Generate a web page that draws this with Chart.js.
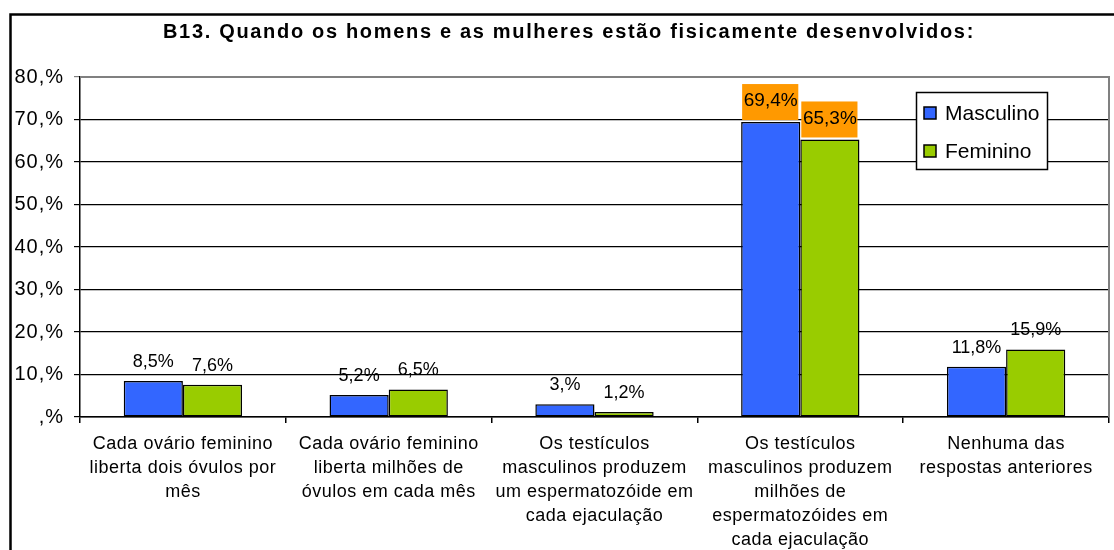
<!DOCTYPE html>
<html><head><meta charset="utf-8">
<script src="https://cdn.jsdelivr.net/npm/chart.js@4/dist/chart.umd.min.js"></script>
<style>html,body{margin:0;padding:0;background:#fff}#wrap{width:1114px;height:550px;position:relative}canvas{display:block}</style>
</head><body><div id="wrap"><canvas id="c" width="1114" height="550"></canvas></div>
<script>
const chartTitle = 'B13. Quando os homens e as mulheres estão fisicamente desenvolvidos:';
const categories = [
  ['Cada ovário feminino', 'liberta dois óvulos por', 'mês'],
  ['Cada ovário feminino', 'liberta milhões de', 'óvulos em cada mês'],
  ['Os testículos', 'masculinos produzem', 'um espermatozóide em', 'cada ejaculação'],
  ['Os testículos', 'masculinos produzem', 'milhões de', 'espermatozóides em', 'cada ejaculação'],
  ['Nenhuma das', 'respostas anteriores']
];
const seriesNames = ['Masculino', 'Feminino'];
const masculino = [8.5, 5.2, 3.0, 69.4, 11.8];
const feminino = [7.6, 6.5, 1.2, 65.3, 15.9];
const highlightedCategory = 3;
const yMin = 0, yMax = 80, yStep = 10;

const FONT = '"Liberation Sans", Arial, sans-serif';
const BLUE = '#3366FF', GREEN = '#99CC00', ORANGE = '#FF9900';

function pct(v) {
  if (Number.isInteger(v)) return (v === 0 ? '' : String(v)) + ',%';
  return v.toFixed(1).replace('.', ',') + '%';
}

const decor = {
  id: 'decor',
  afterLayout(chart) {
    const y = chart.scales.y;
    if (!y._wrapped) {
      const orig = y.drawLabels.bind(y);
      y.drawLabels = function (area) {
        const ctx = chart.ctx; ctx.save(); ctx.letterSpacing = '1px'; orig(area); ctx.restore();
      };
      y._wrapped = true;
    }
    const x = chart.scales.x;
    if (!x._wrapped) {
      const origx = x.drawLabels.bind(x);
      x.drawLabels = function (area) {
        const ctx = chart.ctx; ctx.save(); ctx.letterSpacing = '0.5px'; origx(area); ctx.restore();
      };
      x._wrapped = true;
    }
  },
  beforeDraw(chart) {
    const ctx = chart.ctx;
    ctx.save();
    ctx.fillStyle = '#fff';
    ctx.fillRect(0, 0, chart.width, chart.height);
    ctx.restore();
  },
  afterDraw(chart) {
    const ctx = chart.ctx;
    const a = chart.chartArea;
    ctx.save();
    // outer frame
    ctx.strokeStyle = '#000';
    ctx.lineWidth = 2.5;
    ctx.beginPath();
    ctx.moveTo(10.5, 600); ctx.lineTo(10.5, 14.5); ctx.lineTo(1200, 14.5);
    ctx.stroke();
    // plot area gray top/right
    ctx.strokeStyle = '#808080';
    ctx.lineWidth = 2;
    ctx.beginPath();
    ctx.moveTo(a.left, a.top); ctx.lineTo(a.right, a.top); ctx.lineTo(a.right, a.bottom);
    ctx.stroke();
    // title
    ctx.fillStyle = '#000';
    ctx.font = 'bold 20px ' + FONT;
    ctx.textAlign = 'left';
    ctx.textBaseline = 'middle';
    const w0 = ctx.measureText(chartTitle).width;
    const target = 812;
    const ls = Math.max(0, (target - w0) / chartTitle.length);
    ctx.letterSpacing = ls + 'px';
    ctx.fillText(chartTitle, 569 - target / 2, 32);
    ctx.letterSpacing = '0px';

    // data labels
    chart.data.datasets.forEach((ds, di) => {
      const meta = chart.getDatasetMeta(di);
      meta.data.forEach((bar, i) => {
        const v = ds.data[i];
        const txt = pct(v);
        if (i === highlightedCategory) {
          const bw = bar.width;
          ctx.fillStyle = ORANGE;
          ctx.fillRect(bar.x - bw / 2 + 1, bar.y - 38, bw - 3, 36);
          ctx.fillStyle = '#000';
          ctx.font = '19px ' + FONT;
          ctx.textAlign = 'center';
          ctx.textBaseline = 'middle';
          ctx.fillText(txt, bar.x, bar.y - 21);
        } else {
          ctx.fillStyle = '#000';
          ctx.font = '18px ' + FONT;
          ctx.textAlign = 'center';
          ctx.textBaseline = 'alphabetic';
          ctx.fillText(txt, bar.x, bar.y - 14);
        }
      });
    });

    // legend
    const lx = 916, ly = 92, lw = 131, lh = 77;
    ctx.fillStyle = '#fff';
    ctx.fillRect(lx, ly, lw, lh);
    ctx.strokeStyle = '#000';
    ctx.lineWidth = 1.5;
    ctx.strokeRect(lx + 0.5, ly + 0.5, lw, lh);
    chart.data.datasets.forEach((ds, di) => {
      const cy = ly + 21 + di * 38;
      ctx.fillStyle = ds.backgroundColor;
      ctx.fillRect(lx + 8, cy - 6, 12, 12);
      ctx.strokeStyle = '#000';
      ctx.lineWidth = 1.5;
      ctx.strokeRect(lx + 8, cy - 6, 12, 12);
      ctx.fillStyle = '#000';
      ctx.font = '21px ' + FONT;
      ctx.textAlign = 'left';
      ctx.textBaseline = 'middle';
      ctx.fillText(ds.label, lx + 29, cy + 1);
    });
    ctx.restore();
  }
};

new Chart(document.getElementById('c'), {
  type: 'bar',
  data: {
    labels: categories,
    datasets: [
      { label: seriesNames[0], data: masculino, backgroundColor: BLUE, borderColor: '#000', borderWidth: 1.5, borderSkipped: false, categoryPercentage: 0.575, barPercentage: 1.0 },
      { label: seriesNames[1], data: feminino, backgroundColor: GREEN, borderColor: '#000', borderWidth: 1.5, borderSkipped: false, categoryPercentage: 0.575, barPercentage: 1.0 }
    ]
  },
  options: {
    responsive: false,
    animation: false,
    devicePixelRatio: 1,
    layout: { padding: { top: 77, right: 5, left: 0, bottom: 0 } },
    plugins: { legend: { display: false }, title: { display: false }, tooltip: { enabled: false } },
    scales: {
      x: {
        grid: { offset: true, drawOnChartArea: false, color: '#000', tickLength: 6, lineWidth: 1.5 },
        border: { color: '#000', width: 1.5 },
        ticks: { color: '#000', font: { family: FONT, size: 18, lineHeight: '24px' }, maxRotation: 0, minRotation: 0, autoSkip: false, padding: 9 },
        afterFit(s) { s.height = 133; }
      },
      y: {
        min: yMin, max: yMax,
        grid: { color: (c) => (c.tick && c.tick.value === yMax ? '#808080' : '#000'), tickLength: 6, lineWidth: 1.2 },
        border: { color: '#000', width: 1.5 },
        ticks: { stepSize: yStep, color: '#000', font: { family: FONT, size: 20 }, padding: 10, callback: (v) => pct(v) },
        afterFit(s) { s.width = 80; }
      }
    }
  },
  plugins: [decor]
});
</script>
</body></html>
